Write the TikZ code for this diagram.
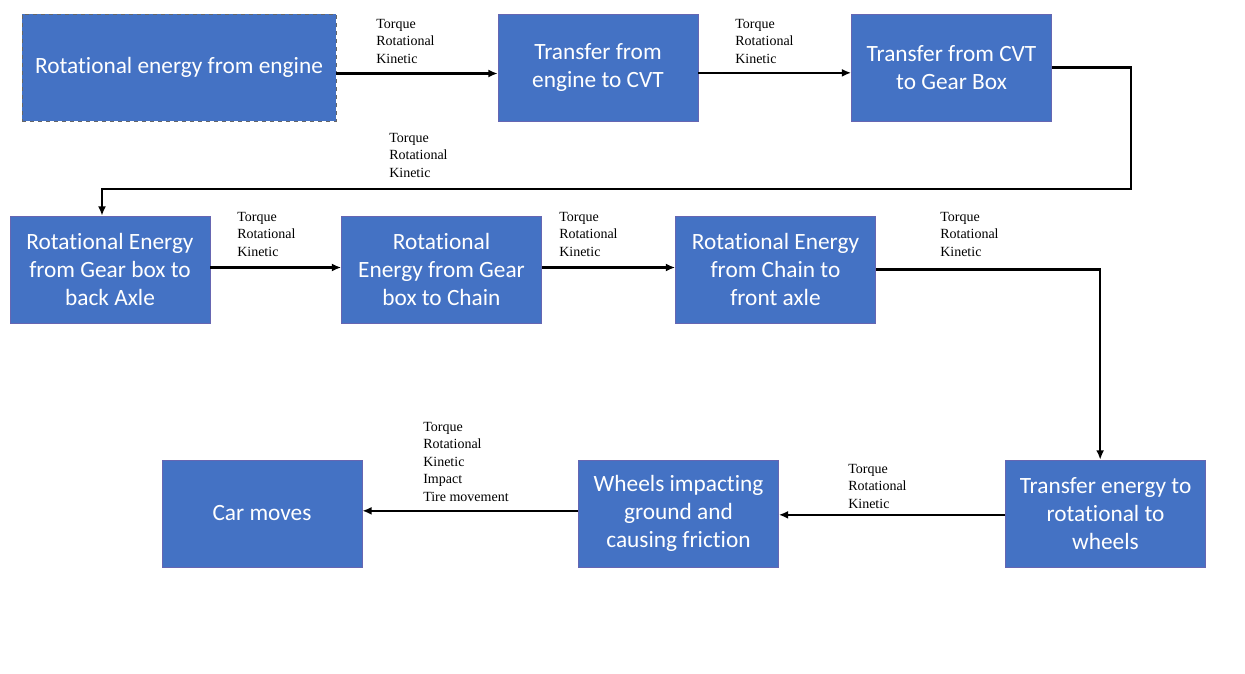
\documentclass[tikz,border=0pt]{standalone}
\usepackage{fontspec}
\setmainfont{Liberation Serif}
\newfontfamily\boxfont[Ligatures=NoCommon]{Carlito}
\usetikzlibrary{arrows.meta, positioning}

\begin{document}
\begin{tikzpicture}[x=0.75pt,y=-0.75pt,
  stage/.style={draw=blue!50!black!60, fill=stageblue, text=white, font=\boxfont\fontsize{17.5}{21}\selectfont,
    align=center, minimum width=150pt, minimum height=80.25pt, inner sep=2pt, line width=0.5pt},
  flow/.style={draw=black, line width=1.6pt, -{Latex[length=7pt,width=6pt]}},
  tag/.style={font=\fontsize{10.5}{13.1}\selectfont, anchor=north west, align=left, inner sep=0pt}]
\definecolor{stageblue}{HTML}{4472C4}
\useasboundingbox (0,0) rectangle (1245,674);
\node [stage, minimum width=235.5pt, draw=black!60, dashed] (eng) at (179,67.5)  {Rotational energy from engine};
\node [stage] (cvt)  at (598,67.5)    {Transfer from\\engine to CVT};
\node [stage] (gbx)  at (951.5,67.5)  {Transfer from CVT\\to Gear Box};
\node [stage] (back) at (110,269.5)   {Rotational Energy\\from Gear box to\\back Axle};
\node [stage] (chn)  at (441.5,269.5) {Rotational\\Energy from Gear\\box to Chain};
\node [stage] (frt)  at (775.5,269.5) {Rotational Energy\\from Chain to\\front axle};
\node [stage] (whl)  at (1105.5,513.5) {Transfer energy to\\rotational to\\wheels};
\node [stage] (gnd)  at (678.5,513.5) {Wheels impacting\\ground and\\causing friction};
\node [stage] (car)  at (262,513.5)   {Car moves};
\coordinate (turn) at (1131,189);
\draw [flow] ([yshift=-4.5pt]eng.east) -- ([yshift=-4.5pt]cvt.west);
\draw [flow] ([yshift=-4pt]cvt.east) -- ([yshift=-4pt]gbx.west);
\draw [flow] (gbx.east) -| (turn) -| ([xshift=-6pt]back.north);
\draw [flow] ([yshift=1.5pt]back.east) -- ([yshift=1.5pt]chn.west);
\draw [flow] ([yshift=1.5pt]chn.east) -- ([yshift=1.5pt]frt.west);
\draw [flow] (frt.east) -| ([xshift=-4pt]whl.north);
\draw [flow] ([yshift=-1pt]whl.west) -- ([yshift=-1pt]gnd.east);
\draw [flow] ([yshift=2pt]gnd.west) -- ([yshift=2pt]car.east);
\node [tag] (t1) at (376,19)  {Torque\\Rotational\\Kinetic};
\node [tag] (t2) at (735,19)  {Torque\\Rotational\\Kinetic};
\node [tag] (t3) at (389,133) {Torque\\Rotational\\Kinetic};
\node [tag] (t4) at (237,212) {Torque\\Rotational\\Kinetic};
\node [tag] (t5) at (559,212) {Torque\\Rotational\\Kinetic};
\node [tag] (t6) at (940,212) {Torque\\Rotational\\Kinetic};
\node [tag] (t7) at (848,464) {Torque\\Rotational\\Kinetic};
\node [tag] (t8) at (423,422) {Torque\\Rotational\\Kinetic\\Impact\\Tire movement};
\end{tikzpicture}
\end{document}
